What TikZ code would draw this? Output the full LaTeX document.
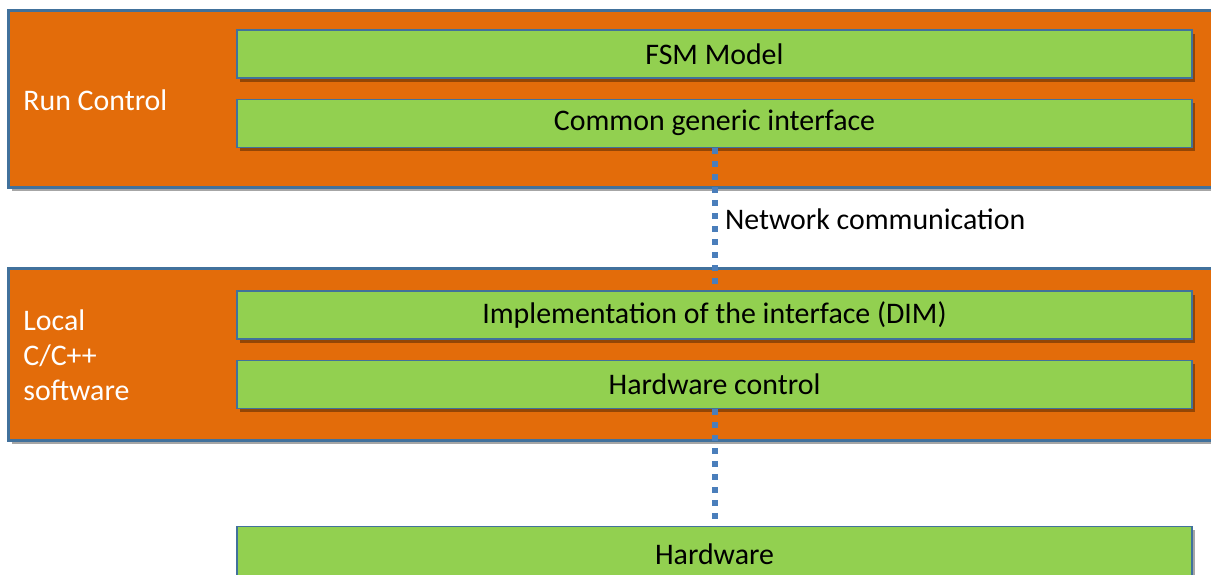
\documentclass[tikz,border=0pt]{standalone}
\usepackage{fontspec}
\setmainfont{Carlito}
\usetikzlibrary{positioning,shadows}
\definecolor{layerorange}{HTML}{E36C0A}
\definecolor{partgreen}{HTML}{92D050}
\definecolor{edgeblue}{HTML}{41719C}
\definecolor{linkblue}{HTML}{4A7EBB}
\tikzstyle{layer} = [rectangle, draw=edgeblue, fill=layerorange, line width=0.06cm,
                     minimum width=24.42cm, inner sep=0pt,
                     drop shadow={shadow xshift=0.06cm, shadow yshift=-0.08cm, opacity=0.35, fill=black}]
\tikzstyle{part} = [rectangle, draw=edgeblue, fill=partgreen, line width=0.025cm,
                    minimum width=19.1cm, minimum height=0.96cm, inner sep=0pt,
                    font=\fontsize{17}{20}\selectfont,
                    drop shadow={shadow xshift=0.05cm, shadow yshift=-0.07cm, opacity=0.35, fill=black}]
\tikzstyle{layertext} = [anchor=west, inner sep=0pt, align=left, text=white,
                         font=\fontsize{17}{19.9}\selectfont]
\tikzstyle{link} = [linkblue, line width=0.12cm, dash pattern=on 0.12cm off 0.14cm]

\begin{document}
\begin{tikzpicture}
    \useasboundingbox (0,0) rectangle (24.22,-11.48);
    % two software layers
    \node [layer, minimum height=3.54cm] (runctl) at (12.39,-1.97) {};
    \node [layer, minimum height=3.44cm] (local) at (12.39,-7.08) {};
    \node [layertext] (runtext) at (0.46,-2.0) {Run Control};
    \node [layertext] (localtext) at (0.46,-7.1) {Local\\C/C++\\software};

    \node [part] (fsm) at (14.29,-1.08) {FSM Model};
    \node [part, below=0.4cm of fsm] (iface) {Common generic interface};
    \node [part] (impl) at (14.29,-6.30) {Implementation of the interface (DIM)};
    \node [part, below=0.4cm of impl] (hwctrl) {Hardware control};
    \node [part, minimum height=1.1cm] (hw) at (14.29,-11.08) {Hardware};

    \draw [link] (iface) -- node[right, inner sep=0.15cm, text=black,
        font=\fontsize{17}{20}\selectfont]{Network communication} (impl);
    \draw [link] (hwctrl) -- (hw);
\end{tikzpicture}
\end{document}
